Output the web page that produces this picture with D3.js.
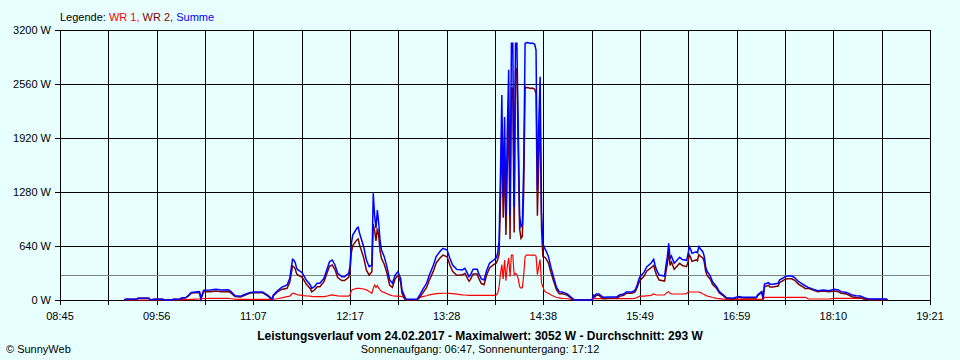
<!DOCTYPE html>
<html><head><meta charset="utf-8">
<script src="https://cdn.jsdelivr.net/npm/d3@7"></script>
<style>
html,body{margin:0;padding:0;background:#E8FFFF;}
svg{display:block;font-family:"Liberation Sans",Arial,sans-serif;}
</style></head><body>
<svg id="c" width="960" height="360"></svg>
<script>
const times = ["09:32","09:33","09:41","09:42","09:50","09:51","09:54","10:00","10:01","10:07","10:08","10:12","10:14","10:17","10:19","10:21","10:24","10:27","10:28","10:30","10:35","10:39","10:43","10:48","10:50","10:53","10:57","11:00","11:04","11:08","11:13","11:17","11:20","11:21","11:24","11:27","11:31","11:33","11:34","11:35","11:36","11:37","11:38","11:39","11:42","11:43","11:45","11:48","11:49","11:51","11:53","11:55","11:58","12:00","12:02","12:04","12:06","12:08","12:11","12:13","12:16","12:17","12:18","12:19","12:22","12:23","12:24","12:27","12:29","12:31","12:33","12:34","12:35","12:36","12:37","12:38","12:39","12:40","12:42","12:44","12:46","12:48","12:50","12:52","12:54","12:55","12:57","12:58","13:06","13:08","13:10","13:13","13:15","13:18","13:20","13:23","13:25","13:28","13:30","13:32","13:35","13:39","13:41","13:44","13:45","13:47","13:50","13:51","13:53","13:55","13:57","13:59","14:02","14:04","14:05","14:06","14:07","14:08","14:09","14:10","14:11","14:12","14:13","14:14","14:15","14:16","14:17","14:18","14:19","14:20","14:21","14:22","14:23","14:24","14:25","14:26","14:27","14:28","14:29","14:30","14:31","14:32","14:33","14:34","14:35","14:36","14:37","14:38","14:39","14:40","14:42","14:44","14:46","14:48","14:50","14:52","14:54","14:56","14:58","15:00","15:01","15:14","15:15","15:16","15:17","15:19","15:22","15:27","15:32","15:34","15:37","15:39","15:43","15:45","15:46","15:47","15:48","15:49","15:52","15:54","15:57","15:59","16:00","16:01","16:03","16:07","16:08","16:09","16:10","16:11","16:12","16:14","16:18","16:20","16:23","16:24","16:25","16:26","16:27","16:30","16:31","16:32","16:33","16:35","16:36","16:37","16:38","16:40","16:41","16:42","16:45","16:47","16:50","16:52","16:57","17:01","17:04","17:14","17:15","17:17","17:18","17:19","17:20","17:23","17:24","17:26","17:30","17:31","17:33","17:35","17:37","17:40","17:42","17:45","17:47","17:50","17:52","17:56","17:59","18:03","18:07","18:11","18:14","18:16","18:20","18:24","18:27","18:30","18:33","18:36","18:49","18:50"];
const summe = [0,8,8,20,20,0,8,8,0,0,8,8,24,30,55,90,95,99,20,115,118,126,118,120,100,50,45,65,90,95,95,55,10,60,110,150,178,257,375,482,470,440,375,356,324,296,237,178,138,158,198,198,257,356,454,474,415,316,277,277,316,395,672,770,850,861,790,632,474,395,415,1264,1000,850,1067,909,700,593,514,395,237,198,296,336,257,119,40,8,8,59,119,198,296,415,514,581,612,593,494,415,363,356,375,277,296,364,364,316,250,237,356,435,474,500,560,700,1500,2430,1224,2170,1000,2000,2730,1000,3042,3042,1100,3042,3042,2000,1000,870,900,1600,3040,3050,3052,3045,3040,3045,3040,3030,2963,1300,2093,2647,1047,672,620,593,520,380,260,150,99,95,85,70,40,15,0,0,59,50,71,71,32,36,36,59,71,95,95,110,138,180,237,277,330,395,435,482,415,360,296,284,415,514,672,490,521,435,506,480,470,533,632,600,553,570,560,632,610,570,514,395,340,296,260,217,158,99,59,28,20,40,32,32,59,87,99,20,190,205,186,186,198,237,257,277,284,284,265,217,198,166,150,126,111,119,111,126,119,99,90,59,50,47,28,12,12,0];
const wr1 = [0,0,0,0,0,0,0,0,0,0,0,2,4,4,5,8,10,12,12,18,20,20,20,20,15,10,8,8,8,8,8,8,8,10,15,25,40,45,65,79,78,72,65,60,55,52,48,45,42,40,40,40,40,45,55,60,55,50,47,47,47,60,110,125,138,138,138,130,120,100,80,140,178,150,170,140,120,100,90,75,60,50,45,45,42,40,30,5,5,30,40,50,60,70,75,79,80,80,79,75,70,60,59,55,55,55,55,55,55,55,55,55,55,60,80,158,316,420,250,474,230,400,500,280,533,533,300,316,300,250,158,140,145,300,514,533,533,533,533,533,533,533,520,300,400,480,200,158,110,95,80,60,45,30,25,20,18,15,10,5,0,0,16,16,16,16,16,16,16,16,16,16,16,20,25,30,40,45,47,50,55,71,65,59,59,59,80,90,99,80,71,71,71,71,75,90,95,95,95,95,95,95,90,71,65,55,47,40,35,30,20,16,10,8,8,8,8,8,8,8,8,8,32,32,32,32,32,32,32,32,32,32,32,32,32,32,12,12,12,12,12,20,20,20,20,20,20,20,20,5,5,0];
const wr2 = [0,8,8,20,20,0,8,8,0,0,8,6,20,26,50,82,85,87,8,97,98,106,98,100,85,40,37,57,82,87,87,47,2,50,95,125,138,212,310,403,392,368,310,296,269,244,189,133,96,118,158,158,217,311,399,414,360,266,230,230,269,335,562,645,712,723,652,502,354,295,335,900,820,700,850,760,580,493,424,320,177,148,251,291,215,79,10,3,3,29,79,148,236,345,439,502,532,513,415,340,293,296,316,222,241,309,309,261,195,182,301,380,419,440,480,542,1184,2010,974,1696,770,1600,2230,720,2509,2509,800,2726,2742,1750,842,730,755,1300,2526,2517,2519,2512,2507,2512,2507,2497,2443,1000,1693,2167,847,514,510,498,440,320,215,120,74,75,67,55,30,10,0,0,43,34,55,55,16,20,20,43,55,79,79,90,113,150,197,232,283,345,380,411,350,301,237,225,335,424,573,410,450,364,435,409,395,443,537,505,458,475,465,537,520,499,449,340,293,256,225,187,138,83,49,20,12,32,24,24,51,79,91,12,158,173,154,154,166,205,225,245,252,252,233,185,166,134,138,114,99,107,99,106,99,79,70,39,30,27,8,7,7,0];
const xTickLabels = ["08:45","09:56","11:07","12:17","13:28","14:38","15:49","16:59","18:10","19:21"];
const yTickValues = [0,640,1280,1920,2560,3200];
const yTickLabels = ["0 W","640 W","1280 W","1920 W","2560 W","3200 W"];
const average = 293;
const seriesNames = ["WR 1","WR 2","Summe"];
const titleText = "Leistungsverlauf vom 24.02.2017 - Maximalwert: 3052 W - Durchschnitt: 293 W";
const subText = "Sonnenaufgang: 06:47, Sonnenuntergang: 17:12";
const copyText = "\u00A9 SunnyWeb";

const toMin = s => { const [h,m] = s.split(":").map(Number); return h*60+m; };
const svg = d3.select("#c");
const L = 60, R = 930, T = 30, B = 300;
const t0 = toMin(xTickLabels[0]), t1 = toMin(xTickLabels[xTickLabels.length-1]);
const x = d3.scaleLinear().domain([t0, t1]).range([L, R]);
const y = d3.scaleLinear().domain([0, 3200]).range([B, T]);
const px = v => Math.round(v) + 0.5;

svg.append("rect").attr("width",960).attr("height",360).attr("fill","#E8FFFF");

const gridTicks = d3.range(19).map(i => t0 + i*(t1-t0)/18);
const grid = svg.append("g").attr("stroke","#000").attr("stroke-width",1).attr("shape-rendering","crispEdges");
gridTicks.forEach(t => grid.append("line").attr("x1",px(x(t))).attr("x2",px(x(t))).attr("y1",T).attr("y2",B+5));
yTickValues.forEach(v => grid.append("line").attr("x1",L-5).attr("x2",R+1).attr("y1",px(y(v))).attr("y2",px(y(v))));

svg.append("line").attr("x1",L+1).attr("x2",R).attr("y1",px(y(average))).attr("y2",px(y(average)))
  .attr("stroke","#808080").attr("stroke-width",1).attr("shape-rendering","crispEdges");

const data = times.map((t,i) => ({t: toMin(t), a: wr1[i], b: wr2[i], s: summe[i]}));
const mk = key => d3.line().x(d => x(d.t)).y(d => y(d[key]));
svg.append("path").datum(data).attr("d", mk("a")).attr("fill","none").attr("stroke","#FF0000").attr("stroke-width",1.2);
svg.append("path").datum(data).attr("d", mk("b")).attr("fill","none").attr("stroke","#800000").attr("stroke-width",1.5);
svg.append("path").datum(data).attr("d", mk("s")).attr("fill","none").attr("stroke","#0000FF").attr("stroke-width",1.5);

const txt = svg.append("g").attr("font-size","11px").attr("fill","#000");
yTickValues.forEach((v,i) => txt.append("text").attr("x",51).attr("y",y(v)+4).attr("text-anchor","end").text(yTickLabels[i]));
xTickLabels.forEach((lab,i) => txt.append("text").attr("x",x(gridTicks[i*2])).attr("y",320).attr("text-anchor","middle").text(lab));

const leg = txt.append("text").attr("x",60).attr("y",21);
leg.append("tspan").text("Legende: ");
leg.append("tspan").attr("fill","#FF0000").text(seriesNames[0]+",");
leg.append("tspan").attr("fill","#800000").text(" "+seriesNames[1]+",");
leg.append("tspan").attr("fill","#0000FF").text(" "+seriesNames[2]);

txt.append("text").attr("x",480).attr("y",340).attr("text-anchor","middle").attr("font-weight","bold").attr("font-size","12px").text(titleText);
txt.append("text").attr("x",480).attr("y",353).attr("text-anchor","middle").text(subText);
txt.append("text").attr("x",6).attr("y",353).text(copyText);
</script>
</body></html>
